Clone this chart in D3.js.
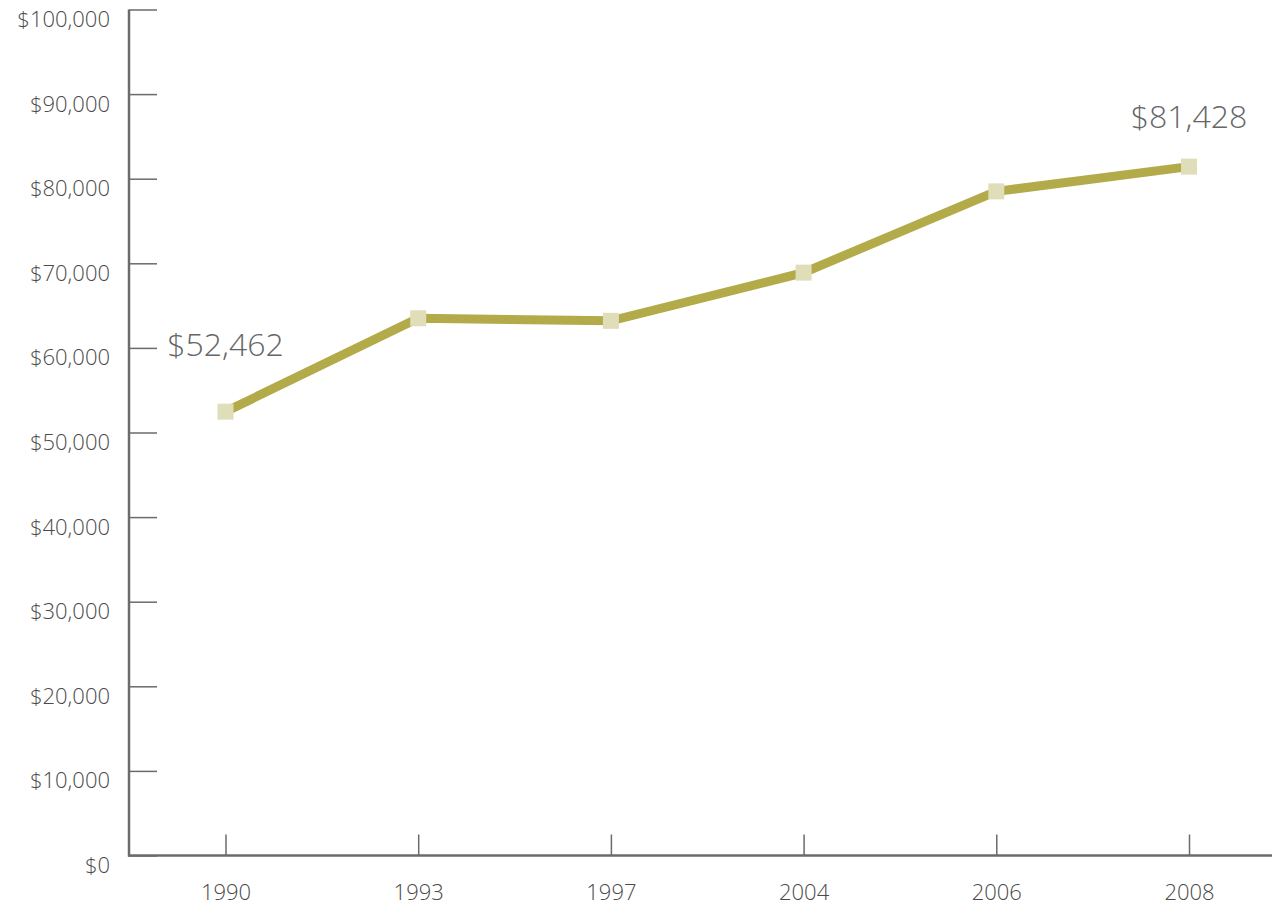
<!DOCTYPE html>
<html>
<head>
<meta charset="utf-8">
<script src="https://cdn.jsdelivr.net/npm/d3@7"></script>
<style>
  html, body { margin: 0; padding: 0; background: #fff; }
  svg { display: block; }
  text { font-family: "Open Sans", "Noto Sans", sans-serif; }
</style>
</head>
<body>
<svg id="chart" width="1274" height="905"></svg>
<script>
// Median household income by year
const years = ["1990", "1993", "1997", "2004", "2006", "2008"];
const incomes = [52462, 63500, 63200, 68900, 78500, 81428];
const yTicks = [0, 10000, 20000, 30000, 40000, 50000, 60000, 70000, 80000, 90000, 100000];
// Points whose value is written above them, with their vertical offset
const labelled = ["1990", "2008"];
const labelOffsets = [56, 39];

const svg = d3.select("#chart");

const x = d3.scalePoint().domain(years).range([225.5, 1189]);
const y = d3.scaleLinear().domain([0, 100000]).range([855.5, 9.5]);

const axisColor = "#6b6b6b";
const fmt = d => "$" + d3.format(",")(d);

// Y axis: ticks point inward, labels hang just below each tick
const yAxis = svg.append("g")
  .attr("transform", "translate(129,0)")
  .call(d3.axisLeft(y).tickValues(yTicks).tickSize(-28).tickSizeOuter(0).tickPadding(19).tickFormat(fmt));
yAxis.select(".domain").remove();
yAxis.selectAll(".tick line").attr("stroke", axisColor).attr("stroke-width", 1.5);
yAxis.selectAll(".tick text")
  .attr("dy", "0.77em")
  .attr("fill", "#4a4a4a")
  .style("font-size", "22px")
  .style("font-weight", 300);
svg.append("line")
  .attr("x1", 129).attr("x2", 129)
  .attr("y1", y(100000)).attr("y2", y(0) + 1)
  .attr("stroke", axisColor).attr("stroke-width", 2.5);

// X axis: ticks point up, labels below the baseline
const xAxis = svg.append("g")
  .attr("transform", `translate(0,${y(0)})`)
  .call(d3.axisBottom(x).tickSize(-21).tickSizeOuter(0).tickPadding(29));
xAxis.select(".domain").remove();
xAxis.selectAll(".tick line").attr("stroke", axisColor).attr("stroke-width", 1.5);
xAxis.selectAll(".tick text")
  .attr("dy", "0.71em")
  .attr("fill", "#4a4a4a")
  .style("font-size", "22px")
  .style("font-weight", 300);
svg.append("line")
  .attr("x1", 128).attr("x2", 1272)
  .attr("y1", y(0)).attr("y2", y(0))
  .attr("stroke", axisColor).attr("stroke-width", 2.5);

// Income line
const data = years.map((yr, i) => ({ year: yr, value: incomes[i] }));
const line = d3.line().x(d => x(d.year)).y(d => y(d.value));
svg.append("path")
  .datum(data)
  .attr("d", line)
  .attr("fill", "none")
  .attr("stroke", "#b3aa4a")
  .attr("stroke-width", 9)
  .attr("stroke-linejoin", "miter");

// Square markers
const size = 16;
svg.selectAll("rect.marker")
  .data(data)
  .join("rect")
  .attr("class", "marker")
  .attr("x", d => x(d.year) - size / 2)
  .attr("y", d => y(d.value) - size / 2)
  .attr("width", size)
  .attr("height", size)
  .attr("fill", "#e0ddb9");

// Value labels for the first and last years
svg.selectAll("text.value")
  .data(data.filter(d => labelled.includes(d.year)))
  .join("text")
  .attr("class", "value")
  .attr("x", d => x(d.year))
  .attr("y", d => y(d.value) - labelOffsets[labelled.indexOf(d.year)])
  .attr("text-anchor", "middle")
  .attr("fill", "#666")
  .style("font-size", "32px")
  .style("font-weight", 300)
  .text(d => fmt(d.value));
</script>
</body>
</html>
